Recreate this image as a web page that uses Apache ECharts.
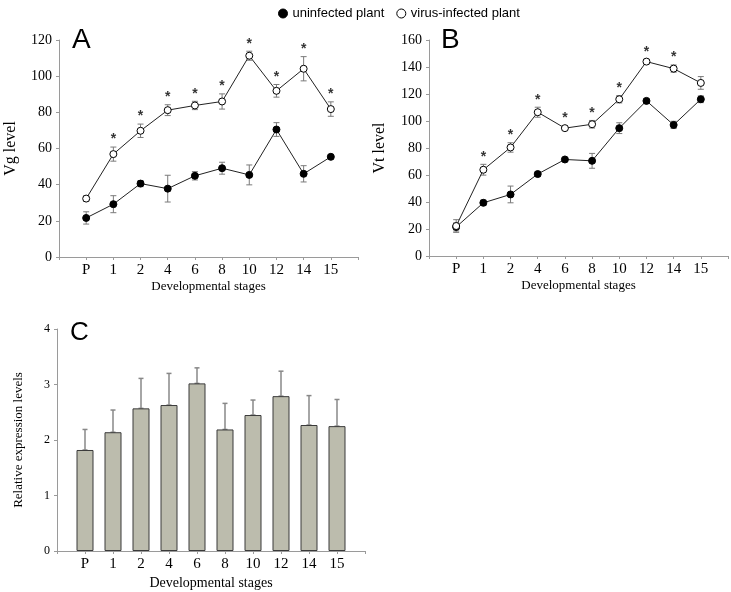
<!DOCTYPE html>
<html>
<head>
<meta charset="utf-8">
<script src="https://cdn.jsdelivr.net/npm/echarts@6/dist/echarts.min.js"></script>
<style>html,body{margin:0;padding:0;background:#fff}#c{width:731px;height:592px}</style>
</head>
<body>
<div id="c"></div>
<script>
const stages = ['P','1','2','4','6','8','10','12','14','15'];
const axisCats = ['', ...stages, ''];

const vgUninf    = [21.6, 29.2, 40.6, 37.8, 44.9, 49.1, 45.4, 70.5, 46.0, 55.4];
const vgUninfErr = [3.4, 4.7, 1.7, 7.4, 2.3, 3.3, 5.5, 3.8, 4.5, 1.0];
const vgVirus    = [32.3, 56.9, 69.8, 81.2, 83.8, 86.0, 111.3, 91.9, 104.1, 81.8];
const vgVirusErr = [1.5, 3.9, 3.7, 3.0, 2.3, 4.2, 2.5, 3.5, 6.7, 4.0];
const vgSig      = [0, 1, 1, 1, 1, 1, 1, 1, 1, 1];

const vtUninf    = [21.5, 39.4, 45.6, 60.7, 71.5, 70.5, 94.7, 114.9, 97.1, 116.1];
const vtUninfErr = [3.0, 2.0, 6.2, 1.8, 1.0, 5.5, 4.0, 1.6, 2.7, 2.5];
const vtVirus    = [22.2, 63.9, 80.4, 106.5, 94.7, 97.6, 116.1, 144.0, 138.8, 128.2];
const vtVirusErr = [4.7, 4.0, 3.5, 3.7, 1.5, 2.8, 2.7, 1.7, 2.7, 4.7];
const vtSig      = [0, 1, 1, 1, 1, 1, 1, 1, 1, 0];

const relExpr    = [1.82, 2.14, 2.57, 2.63, 3.02, 2.19, 2.45, 2.79, 2.27, 2.25];
const relExprErr = [0.37, 0.40, 0.54, 0.57, 0.28, 0.47, 0.27, 0.45, 0.53, 0.48];

const vgTicks = {min: 0, max: 120, interval: 20};
const vtTicks = {min: 0, max: 160, interval: 20};
const reTicks = {min: 0, max: 4, interval: 1};

const SERIF = 'Liberation Serif';
const SANS = 'Liberation Sans';
const AXIS_GRAY = '#9a9a9a';
const ERR_GRAY = '#7a7a7a';

const pts = arr => arr.map((v, i) => [i + 1, v]);
const errs = (vals, e, upperOnly) => vals.map((v, i) => [i + 1, upperOnly ? v : v - e[i], v + e[i]]);
const stars = (vals, e, sig) => vals.map((v, i) => sig[i] ? [i + 1, v + e[i]] : null).filter(d => d);

function errRender(capHalf, color, width) {
  return function (params, api) {
    const x = api.value(0);
    const lo = api.coord([x, api.value(1)]);
    const hi = api.coord([x, api.value(2)]);
    const st = {stroke: color, lineWidth: width};
    return {
      type: 'group',
      children: [
        {type: 'line', shape: {x1: hi[0], y1: hi[1], x2: lo[0], y2: lo[1]}, style: st},
        {type: 'line', shape: {x1: hi[0] - capHalf, y1: hi[1], x2: hi[0] + capHalf, y2: hi[1]}, style: st},
        {type: 'line', shape: {x1: lo[0] - capHalf, y1: lo[1], x2: lo[0] + capHalf, y2: lo[1]}, style: st}
      ]
    };
  };
}

function xAxisDef(gridIndex, nameSize, nameGap) {
  return {
    type: 'category', gridIndex, data: axisCats, boundaryGap: false,
    axisLine: {lineStyle: {color: AXIS_GRAY, width: 1}},
    axisTick: {show: true, interval: 0, length: 3, lineStyle: {color: AXIS_GRAY}},
    axisLabel: {interval: 0, color: '#000', fontFamily: SERIF, fontSize: 15, margin: 6},
    splitLine: {show: false},
    name: 'Developmental stages', nameLocation: 'middle', nameGap,
    nameTextStyle: {color: '#000', fontFamily: SERIF, fontSize: nameSize}
  };
}
function yAxisDef(gridIndex, ticks, name, nameSize, nameGap, labelSize) {
  return {
    type: 'value', gridIndex, min: ticks.min, max: ticks.max, interval: ticks.interval,
    axisLine: {show: true, lineStyle: {color: AXIS_GRAY, width: 1}},
    axisTick: {show: true, length: 3, lineStyle: {color: AXIS_GRAY}},
    axisLabel: {color: '#000', fontFamily: SERIF, fontSize: labelSize, margin: 7},
    splitLine: {show: false},
    name, nameLocation: 'middle', nameRotate: 90, nameGap,
    nameTextStyle: {color: '#000', fontFamily: SERIF, fontSize: nameSize}
  };
}

const lineCommon = {
  type: 'line', symbol: 'circle', symbolSize: 7, z: 3,
  lineStyle: {color: '#222', width: 1}
};
const uninfStyle = {color: '#000', borderColor: '#000', borderWidth: 1};
const virusStyle = {color: '#fff', borderColor: '#000', borderWidth: 1};

function starSeries(xi, yi, data) {
  return {
    type: 'scatter', xAxisIndex: xi, yAxisIndex: yi, data, symbolSize: 1,
    itemStyle: {color: 'rgba(0,0,0,0)'}, silent: true, z: 4,
    label: {show: true, position: 'top', distance: 0, formatter: '*', color: '#000',
            fontFamily: SANS, fontSize: 14, fontWeight: 'bold'}
  };
}
function errSeries(xi, yi, data, capHalf, color, width) {
  return {
    type: 'custom', xAxisIndex: xi, yAxisIndex: yi, data, z: 2, silent: true,
    encode: {x: 0, y: [1, 2]},
    renderItem: errRender(capHalf, color, width)
  };
}

const option = {
  animation: false,
  backgroundColor: '#fff',
  legend: {
    top: 2, left: 273, itemWidth: 9, itemHeight: 9, itemGap: 12, icon: 'circle',
    itemStyle: {borderWidth: 1, borderColor: '#000'},
    data: ['uninfected plant', 'virus-infected plant'],
    textStyle: {fontFamily: SANS, fontSize: 13, color: '#000'}
  },
  graphic: [
    {type: 'text', left: 72, top: 26, style: {text: 'A', font: '28px "Liberation Sans"', fill: '#000'}},
    {type: 'text', left: 441, top: 26, style: {text: 'B', font: '28px "Liberation Sans"', fill: '#000'}},
    {type: 'text', left: 70, top: 320, style: {text: 'C', font: '26px "Liberation Sans"', fill: '#000'}}
  ],
  grid: [
    {left: 59, top: 40, width: 299, height: 217},
    {left: 429, top: 40, width: 300, height: 216},
    {left: 57, top: 329, width: 308, height: 222}
  ],
  xAxis: [
    xAxisDef(0, 13, 23),
    xAxisDef(1, 13, 23),
    xAxisDef(2, 14, 25)
  ],
  yAxis: [
    yAxisDef(0, vgTicks, 'Vg level', 16, 40, 14),
    yAxisDef(1, vtTicks, 'Vt level', 16, 41, 14),
    yAxisDef(2, reTicks, 'Relative expression levels', 13, 32, 12)
  ],
  series: [
    errSeries(0, 0, errs(vgUninf, vgUninfErr), 3, ERR_GRAY, 1),
    errSeries(0, 0, errs(vgVirus, vgVirusErr), 3, ERR_GRAY, 1),
    Object.assign({}, lineCommon, {name: 'uninfected plant', xAxisIndex: 0, yAxisIndex: 0, data: pts(vgUninf), itemStyle: uninfStyle}),
    Object.assign({}, lineCommon, {name: 'virus-infected plant', xAxisIndex: 0, yAxisIndex: 0, data: pts(vgVirus), itemStyle: virusStyle}),
    starSeries(0, 0, stars(vgVirus, vgVirusErr, vgSig)),

    errSeries(1, 1, errs(vtUninf, vtUninfErr), 3, ERR_GRAY, 1),
    errSeries(1, 1, errs(vtVirus, vtVirusErr), 3, ERR_GRAY, 1),
    Object.assign({}, lineCommon, {name: 'uninfected plant', xAxisIndex: 1, yAxisIndex: 1, data: pts(vtUninf), itemStyle: uninfStyle}),
    Object.assign({}, lineCommon, {name: 'virus-infected plant', xAxisIndex: 1, yAxisIndex: 1, data: pts(vtVirus), itemStyle: virusStyle}),
    starSeries(1, 1, stars(vtVirus, vtVirusErr, vtSig)),

    {
      type: 'bar', xAxisIndex: 2, yAxisIndex: 2, data: pts(relExpr), barWidth: 17, z: 2,
      itemStyle: {color: '#bcbcad', borderColor: '#3a3a3a', borderWidth: 1}
    },
    errSeries(2, 2, errs(relExpr, relExprErr, true), 2.5, '#888', 1.5)
  ]
};

const chart = echarts.init(document.getElementById('c'), null, {renderer: 'canvas'});
chart.setOption(option);
</script>
</body>
</html>
